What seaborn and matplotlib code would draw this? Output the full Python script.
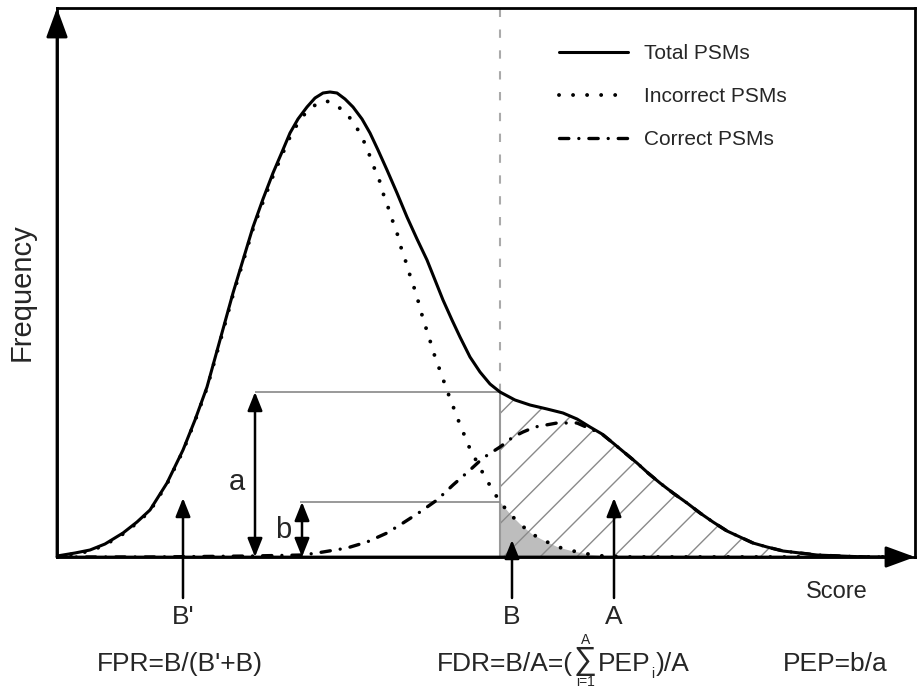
import numpy as np
import pandas as pd
import matplotlib
matplotlib.use("Agg")
import matplotlib.pyplot as plt
import seaborn as sns

# scores / frequencies
score_total = [57, 75, 90, 105, 123, 137, 150, 167, 183, 195, 207, 220, 233, 243, 253, 263, 273, 282, 290, 298,
               307, 315, 323, 330, 337, 345, 353, 362, 370, 378, 387, 397, 407, 417, 427, 435, 443, 452, 460, 470,
               480, 490, 500, 515, 530, 547, 563, 577, 590, 602, 613, 625, 637, 648, 660, 673, 687, 700, 713, 727,
               740, 753, 767, 783, 800, 817, 840, 867, 900]
freq_total = [1, 4, 7, 13, 24, 35, 47, 74, 107, 137, 170, 217, 264, 297, 330, 358, 384, 405, 424, 438,
              450, 459, 464, 465, 464, 458, 450, 438, 424, 407, 387, 364, 340, 318, 297, 277, 257, 237, 220, 200,
              185, 173, 165, 157, 152, 148, 144, 138, 130, 123, 114, 104, 94, 84, 74, 64, 54, 44, 35, 26,
              20, 14, 10, 6, 4, 2, 1, 0, 0]

score_incorrect = [57, 75, 90, 105, 123, 137, 150, 167, 183, 195, 207, 220, 233, 243, 253, 263, 273, 282, 290, 298,
                   307, 318, 326, 333, 345, 354, 362, 368, 373, 379, 383, 388, 393, 398, 402, 407, 411, 416, 420, 424,
                   429, 433, 438, 443, 448, 459, 470, 485, 492, 500, 510, 520, 532, 545, 558, 573, 588, 603, 630, 900]
freq_incorrect = [1, 3, 6, 12, 23, 34, 46, 73, 106, 136, 169, 215, 262, 295, 328, 355, 381, 402, 420, 434,
                  446, 454, 456, 454, 445, 434, 420, 406, 392, 378, 364, 350, 335, 321, 306, 292, 278, 264, 249, 235,
                  220, 206, 192, 178, 164, 135, 108, 80, 68, 55, 43, 33, 23, 16, 10, 6, 3, 1, 0, 0]

score_correct = [57, 150, 250, 303, 323, 347, 367, 387, 403, 420, 437, 453, 470, 483, 500, 513, 523, 535, 557, 577,
                 593, 602, 613, 625, 637, 648, 660, 673, 687, 700, 713, 727, 740, 753, 767, 783, 800, 817, 840, 867, 900]
freq_correct = [0, 0, 1, 2, 5, 9, 15, 24, 34, 45, 57, 72, 87, 99, 110, 120, 125, 130, 134, 134,
                127, 123, 114, 104, 94, 84, 74, 64, 54, 44, 35, 26, 20, 14, 10, 6, 4, 2, 1, 0, 0]

cutoff = 500          # score threshold (B)
pos_a = 255           # where the "a" bracket sits
pos_b = 302           # where the "b" bracket sits
marker_pos = {"B'": 183, "B": 512, "A": 614}

df_total = pd.DataFrame({"score": score_total, "freq": freq_total})
df_inc = pd.DataFrame({"score": score_incorrect, "freq": freq_incorrect})
df_cor = pd.DataFrame({"score": score_correct, "freq": freq_correct})

sns.set_theme(style="white")
plt.rcParams["font.family"] = ["Liberation Sans", "DejaVu Sans"]

fig = plt.figure(figsize=(9.18, 6.89), dpi=100)
ax = fig.add_axes([57 / 918, 132 / 689, 858 / 918, 549 / 689])
ax.set_xlim(57, 915)
ax.set_ylim(0, 549)
ax.set_xticks([])
ax.set_yticks([])
for s in ax.spines.values():
    s.set_color("black")
    s.set_linewidth(2)

# shaded areas right of the cutoff
right_t = df_total[df_total.score >= cutoff]
right_i = df_inc[df_inc.score >= cutoff]
ax.fill_between(right_i.score, 0, right_i.freq, color="#bdbdbd", lw=0, zorder=1)
hatch_poly = ax.fill_between(right_t.score, 0, right_t.freq, color="none", lw=0, zorder=1)
clip = hatch_poly.get_paths()[0]
for c in np.arange(540 - 36.7 * 6, 900, 36.7):
    ln, = ax.plot([c, c + 300], [0, 300], color="#8a8a8a", lw=1.0, zorder=2)
    ln.set_clip_path(clip, ax.transData)

# cutoff lines
a_val = df_total.loc[df_total.score == cutoff, "freq"].iloc[0]
b_val = df_inc.loc[df_inc.score == cutoff, "freq"].iloc[0]
ax.vlines(cutoff, 0, a_val, color="#999999", lw=1.5, zorder=2)
ax.vlines(cutoff, a_val, 549, color="#aaaaaa", lw=1.5, linestyles=(0, (4, 6)), zorder=2)
ax.hlines(a_val, pos_a, cutoff, color="#888888", lw=1.2, zorder=2)
ax.hlines(b_val, pos_b - 2, cutoff, color="#888888", lw=1.2, zorder=2)

# curves
sns.lineplot(data=df_total, x="score", y="freq", ax=ax, color="black", lw=2.2,
             label="Total PSMs", zorder=4)
sns.lineplot(data=df_inc, x="score", y="freq", ax=ax, color="black", lw=2.8,
             linestyle=(0, (0.01, 3.6)), dash_capstyle="round", label="Incorrect PSMs", zorder=3)
sns.lineplot(data=df_cor, x="score", y="freq", ax=ax, color="black", lw=2.4,
             linestyle=(0, (2.8, 3.0, 0.01, 3.0)), dash_capstyle="round", label="Correct PSMs", zorder=3)

ax.legend(loc="upper left", bbox_to_anchor=(559 / 918, 1 - 44 / 689), bbox_transform=fig.transFigure,
          frameon=False, fontsize=15, handlelength=3.3, handletextpad=0.8, labelspacing=1.15,
          borderpad=0, borderaxespad=0)

# axis arrows
axis_arrow = dict(arrowstyle="-|>,head_length=0.6,head_width=0.22", mutation_scale=30,
                  color="black", lw=2, shrinkA=0, shrinkB=0)
ax.annotate("", xy=(57, 549), xytext=(57, 0), arrowprops=axis_arrow, annotation_clip=False)
ax.annotate("", xy=(915, 0), xytext=(57, 0), arrowprops=axis_arrow, annotation_clip=False)

# a / b brackets
dbl = dict(arrowstyle="<|-|>,head_length=0.45,head_width=0.18", mutation_scale=25,
           color="black", lw=1.8, shrinkA=0, shrinkB=0)
ax.annotate("", xy=(pos_a, a_val), xytext=(pos_a, 0), arrowprops=dbl)
ax.annotate("", xy=(pos_b, b_val), xytext=(pos_b, 0), arrowprops=dbl)
ax.text(pos_a - 18, 75, "a", fontsize=21, ha="center", va="center")
ax.text(pos_b - 19, 27, "b", fontsize=21, ha="center", va="center")

# region markers
up = dict(arrowstyle="-|>,head_length=0.45,head_width=0.18", mutation_scale=25,
          color="black", lw=1.8, shrinkA=0, shrinkB=0)
tips = {"B'": 59, "B": 17, "A": 59}
for lab, xp in marker_pos.items():
    ax.annotate("", xy=(xp, tips[lab]), xytext=(xp, -41), arrowprops=up, annotation_clip=False)
    ax.text(xp, -60, lab, fontsize=19, ha="center", va="center", clip_on=False)

ax.text(837, -35, "Score", fontsize=17, ha="center", va="center", clip_on=False)
ax.text(22, 265, "Frequency", fontsize=21, rotation=90, ha="center", va="center", clip_on=False)

# formulas
ax.text(180, -114, "FPR=B/(B'+B)", fontsize=19, ha="center", va="baseline", clip_on=False)
ax.text(835, -114, "PEP=b/a", fontsize=19, ha="center", va="baseline", clip_on=False)

t1 = ax.text(437, -114, "FDR=B/A=(", fontsize=19, ha="left", va="baseline", clip_on=False)
t2 = ax.annotate("\u2211", xy=(1, 0), xycoords=t1, xytext=(0.5, 0), textcoords="offset points",
                 fontsize=23, ha="left", va="bottom", annotation_clip=False)
ax.annotate("A", xy=(0.5, 1), xycoords=t2, xytext=(0, -1), textcoords="offset points",
            fontsize=10, ha="center", va="bottom", annotation_clip=False)
ax.annotate("i=1", xy=(0.5, 0), xycoords=t2, xytext=(0, 1), textcoords="offset points",
            fontsize=10, ha="center", va="top", annotation_clip=False)
t3 = ax.annotate("PEP", xy=(1, 0), xycoords=t2, xytext=(0.5, 0), textcoords="offset points",
                 fontsize=19, ha="left", va="bottom", annotation_clip=False)
ax.annotate("i", xy=(1, 0), xycoords=t3, xytext=(0.5, 1.5), textcoords="offset points",
            fontsize=10, ha="left", va="center", annotation_clip=False)
ax.annotate(")/A", xy=(1, 0), xycoords=t3, xytext=(4, 0), textcoords="offset points",
            fontsize=19, ha="left", va="bottom", annotation_clip=False)

fig.savefig("out.png", dpi=100)
